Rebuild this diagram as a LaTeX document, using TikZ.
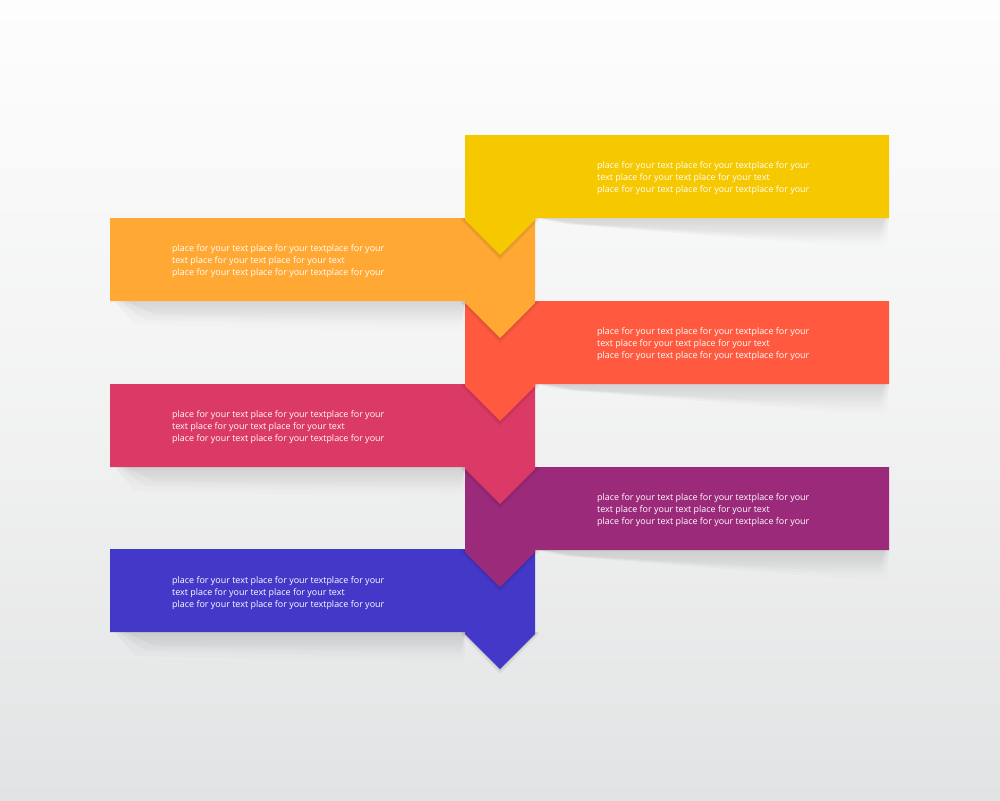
\documentclass[tikz,border=0pt]{standalone}
\usepackage{fontspec}
\setmainfont{Open Sans}
\usetikzlibrary{fadings}
\tikzfading[name=fadedown, top color=transparent!0, bottom color=transparent!100]
\definecolor{cYellow}{RGB}{245,200,0}
\definecolor{cOrange}{RGB}{255,168,52}
\definecolor{cRed}{RGB}{255,90,64}
\definecolor{cPink}{RGB}{219,58,102}
\definecolor{cPurple}{RGB}{155,42,122}
\definecolor{cBlue}{RGB}{68,56,200}
\definecolor{bgTop}{RGB}{253,253,253}
\definecolor{bgBot}{RGB}{226,227,228}
\tikzset{
  bannertext/.style={anchor=west, align=left, text=white, inner sep=0pt,
    font=\fontsize{8.95}{12}\selectfont},
  softshadow/.style={fill=black, opacity=0.045, path fading=fadedown},
  tabshadow/.style={fill=black, opacity=0.045},
}
\newcommand{\bodytext}{place for your text place for your textplace for your\\text place for your text place for your text\\place for your text place for your textplace for your}
\newcommand{\tabshadows}{%
  \foreach \d in {1,2.5,4}{%
    \fill[tabshadow] (465-\d,\bb) -- (535+\d,\bb) -- (535+\d,\bb+2) -- (500,\bb+37+1.3*\d) -- (465-\d,\bb+2) -- cycle;}%
}
% right banner: #1 top y, #2 colour
\newcommand{\rightbanner}[2]{%
  \pgfmathsetmacro{\bt}{#1}\pgfmathsetmacro{\bb}{#1+83}%
  \foreach \d in {0,4,8}{%
    \fill[softshadow] (535+\d,\bb) -- (889-0.5*\d,\bb) -- (886-\d,\bb+32-\d) -- (565+2*\d,\bb+6) -- cycle;}
  \tabshadows
  \fill[#2] (465,\bt) -- (889,\bt) -- (889,\bb) -- (535,\bb) -- (535,\bb+2) -- (500,\bb+37) -- (465,\bb+2) -- cycle;
}
\newcommand{\leftbanner}[2]{%
  \pgfmathsetmacro{\bt}{#1}\pgfmathsetmacro{\bb}{#1+83}%
  \foreach \d in {0,5,10}{%
    \fill[softshadow] (115+\d,\bb) -- (465,\bb) -- (465-0.5*\d,\bb+32-\d) -- (135+2*\d,\bb+24-\d) -- cycle;}
  \tabshadows
  \fill[#2] (110,\bt) -- (535,\bt) -- (535,\bb+2) -- (500,\bb+37) -- (465,\bb+2) -- (465,\bb) -- (110,\bb) -- cycle;
}
\begin{document}
\begin{tikzpicture}[x=1pt, y=-1pt]
\useasboundingbox (0,0) rectangle (1000,800);
\shade[top color=bgTop, bottom color=bgBot, middle color=bgTop!60!bgBot] (0,0) rectangle (1000,800);
% drawn bottom-most first
\leftbanner{549}{cBlue}
\rightbanner{467}{cPurple}
\leftbanner{384}{cPink}
\rightbanner{301}{cRed}
\leftbanner{218}{cOrange}
\rightbanner{135}{cYellow}
\node[bannertext] (t1) at (597,178) {\bodytext};
\node[bannertext] (t2) at (172,261) {\bodytext};
\node[bannertext] (t3) at (597,344) {\bodytext};
\node[bannertext] (t4) at (172,427) {\bodytext};
\node[bannertext] (t5) at (597,510) {\bodytext};
\node[bannertext] (t6) at (172,593) {\bodytext};
\end{tikzpicture}
\end{document}
